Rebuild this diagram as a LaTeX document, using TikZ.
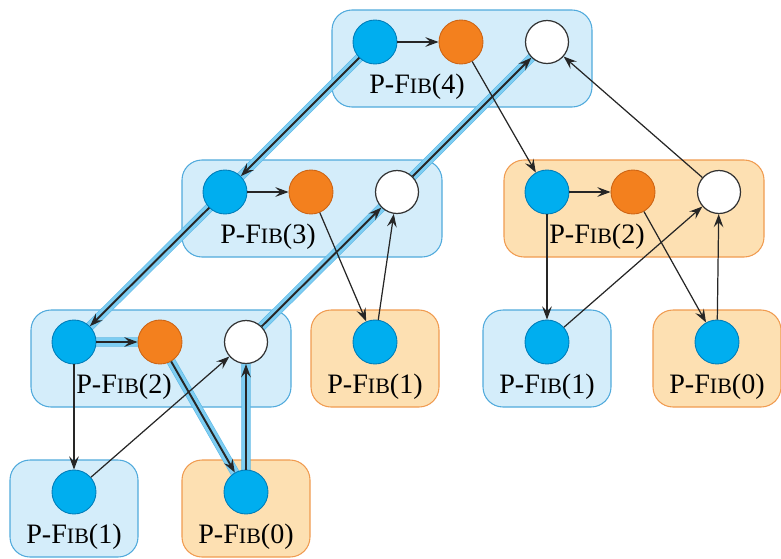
\documentclass[tikz,border=0pt]{standalone}
\usepackage{fontspec}
\setmainfont{Liberation Serif}
\usetikzlibrary{arrows.meta}
\definecolor{spawnblue}{RGB}{0,174,239}
\definecolor{spawnline}{RGB}{0,125,185}
\definecolor{contorange}{RGB}{243,128,30}
\definecolor{contline}{RGB}{205,100,20}
\definecolor{boxblue}{RGB}{212,237,250}
\definecolor{boxblueline}{RGB}{80,170,220}
\definecolor{boxorange}{RGB}{253,224,178}
\definecolor{boxorangeline}{RGB}{240,155,80}
\definecolor{pathblue}{RGB}{125,205,242}
\definecolor{pathline}{RGB}{90,182,228}
\pgfdeclarelayer{back}
\pgfdeclarelayer{glow}
\pgfsetlayers{back,glow,main}
\tikzset{
  spawn/.style={circle,fill=spawnblue,draw=spawnline,line width=0.5pt,
    minimum size=0.88cm,inner sep=0pt},
  cont/.style={circle,fill=contorange,draw=contline,line width=0.5pt,
    minimum size=0.88cm,inner sep=0pt},
  sync/.style={circle,fill=white,draw=black!80,line width=0.7pt,
    minimum size=0.86cm,inner sep=0pt},
  bluebox/.style={fill=boxblue,draw=boxblueline,line width=0.6pt,rounded corners=0.4cm},
  orangebox/.style={fill=boxorange,draw=boxorangeline,line width=0.6pt,rounded corners=0.4cm},
  lbl/.style={font=\fontsize{16}{19}\selectfont,inner sep=0pt},
  edge/.style={draw=black!85,line width=0.7pt,
    -{Stealth[length=7.5pt,width=5.5pt,inset=2.8pt]}},
  crit/.style={draw=black!85,line width=1.1pt,
    -{Stealth[length=7.5pt,width=5.5pt,inset=2.8pt]}},
  glowpath/.style={draw=pathline,double=pathblue,double distance=4.6pt,
    line width=0.3pt,line join=round},
}
\newcommand{\pfib}[1]{P-F{\fontsize{12.5}{15}\selectfont IB}(#1)}
% a call with spawn, continuation and sync strands
\newcommand{\fibtriple}[6]{%
  \begin{pgfonlayer}{back}
    \draw[#5] (#2-43,#3-32) rectangle (#2+217,#3+65);
  \end{pgfonlayer}
  \node[spawn] (#1s) at (#2,#3) {};
  \node[cont] (#1c) at (#2+86,#3) {};
  \node[sync] (#1r) at (#2+172,#3) {};
  \node[lbl] (#1l) at (#2+#6,#3+45) {\pfib{#4}};
}
% a leaf call with one strand
\newcommand{\fibleaf}[5]{%
  \begin{pgfonlayer}{back}
    \draw[#5] (#2-64,#3-32) rectangle (#2+64,#3+65);
  \end{pgfonlayer}
  \node[spawn] (#1s) at (#2,#3) {};
  \node[lbl] (#1l) at (#2,#3+45) {\pfib{#4}};
}

\begin{document}
\begin{tikzpicture}[x=0.02cm,y=-0.02cm]
  \useasboundingbox (0,0) rectangle (781,558);
  \fibtriple{ta}{375}{42}{4}{bluebox}{42}
  \fibtriple{tb}{225}{192}{3}{bluebox}{43}
  \fibtriple{tc}{547}{192}{2}{orangebox}{50}
  \fibtriple{td}{74}{342}{2}{bluebox}{50}
  \fibleaf{la}{375}{342}{1}{orangebox}
  \fibleaf{lb}{547}{342}{1}{bluebox}
  \fibleaf{lc}{717}{342}{0}{orangebox}
  \fibleaf{ld}{74}{492}{1}{bluebox}
  \fibleaf{le}{246}{492}{0}{orangebox}
  % critical path, behind the strands
  \begin{pgfonlayer}{glow}
    \draw[glowpath] (tas.center) -- (tbs.center) -- (tds.center) -- (tdc.center)
      -- (les.center) -- (tdr.center) -- (tbr.center) -- (tar.center);
  \end{pgfonlayer}
  % P-Fib(4)
  \draw[edge] (tas) -- (tac);
  \draw[crit] (tas) -- (tbs);
  \draw[edge] (tac) -- (tcs);
  \draw[crit] (tbr) -- (tar);
  \draw[edge] (tcr) -- (tar);
  % P-Fib(3)
  \draw[edge] (tbs) -- (tbc);
  \draw[crit] (tbs) -- (tds);
  \draw[edge] (tbc) -- (las);
  \draw[edge] (las) -- (tbr);
  \draw[crit] (tdr) -- (tbr);
  % right P-Fib(2)
  \draw[edge] (tcs) -- (tcc);
  \draw[edge] (tcs) -- (lbs);
  \draw[edge] (tcc) -- (lcs);
  \draw[edge] (lbs) -- (tcr);
  \draw[edge] (lcs) -- (tcr);
  % left P-Fib(2)
  \draw[crit] (tds) -- (tdc);
  \draw[edge] (tds) -- (lds);
  \draw[crit] (tdc) -- (les);
  \draw[edge] (lds) -- (tdr);
  \draw[crit] (les) -- (tdr);
\end{tikzpicture}
\end{document}
